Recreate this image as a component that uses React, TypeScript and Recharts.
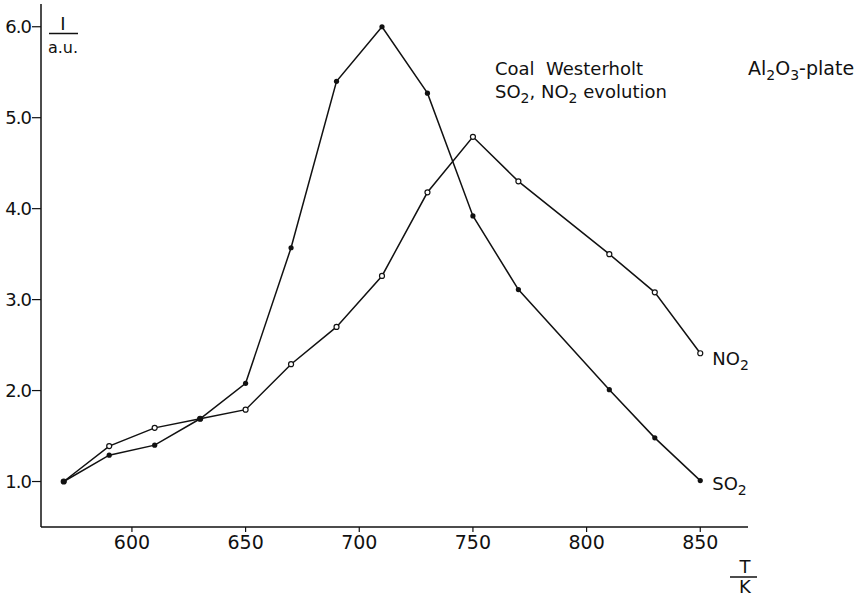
import React from "react";
import { LineChart, Line, XAxis, YAxis, LabelList } from "recharts";

// temperature T / K
const temperatures = [570, 590, 610, 630, 650, 670, 690, 710, 730, 750, 770, 810, 830, 850];
// intensity I / a.u.
const so2Values = [1.0, 1.29, 1.4, 1.69, 2.08, 3.57, 5.4, 6.0, 5.27, 3.92, 3.11, 2.01, 1.48, 1.01];
const no2Values = [1.0, 1.39, 1.59, 1.69, 1.79, 2.29, 2.7, 3.26, 4.18, 4.79, 4.3, 3.5, 3.08, 2.41];

const xTicks = [600, 650, 700, 750, 800, 850];
const yTicks = [1, 2, 3, 4, 5, 6];

const FONT = "'DejaVu Sans', sans-serif";
const INK = "#111";

const data = temperatures.map((t, i) => ({ t, so2: so2Values[i], no2: no2Values[i] }));
const lastIndex = temperatures.length - 1;

function Sub({ children }: { children: React.ReactNode }) {
  return (
    <tspan dy={5} fontSize={14}>
      {children}
    </tspan>
  );
}

// series name written next to the final point, "SO2" / "NO2" with subscript
function endLabel(prefix: string, dy: number) {
  // eslint-disable-next-line @typescript-eslint/no-explicit-any
  return (props: any) => {
    if (props.index !== lastIndex) return null;
    return (
      <text x={props.x + 12} y={props.y + dy} fontFamily={FONT} fontSize={18} fill={INK}>
        {prefix}
        <Sub>2</Sub>
      </text>
    );
  };
}

function OpenDot(props: any) {
  const { cx, cy } = props;
  if (cx == null || cy == null) return null;
  return <circle cx={cx} cy={cy} r={2.5} fill="#fff" stroke={INK} strokeWidth={1.2} />;
}

function FilledDot(props: any) {
  const { cx, cy } = props;
  if (cx == null || cy == null) return null;
  return <circle cx={cx} cy={cy} r={2.6} fill={INK} stroke="none" />;
}

export default function App() {
  return (
    <div style={{ position: "absolute", left: 0, top: 0, width: 865, height: 597, background: "#fff" }}>
      <LineChart
        width={865}
        height={597}
        data={data}
        margin={{ top: 4, right: 117, left: 0, bottom: 40 }}
      >
        <XAxis
          dataKey="t"
          type="number"
          domain={[560, 871]}
          ticks={xTicks}
          tickSize={5}
          tickMargin={4}
          height={30}
          axisLine={{ stroke: INK, strokeWidth: 1.5 }}
          tickLine={{ stroke: INK, strokeWidth: 1.2 }}
          tick={{ fill: INK, fontSize: 19, fontFamily: FONT }}
        />
        <YAxis
          type="number"
          domain={[0.5, 6.25]}
          ticks={yTicks}
          width={41}
          tickSize={9}
          tickMargin={1}
          axisLine={{ stroke: INK, strokeWidth: 1.5 }}
          tickLine={{ stroke: INK, strokeWidth: 1.2 }}
          tick={{ fill: INK, fontSize: 18, fontFamily: FONT, letterSpacing: -1 }}
          tickFormatter={(v: number) => v.toFixed(1)}
        />
        <Line
          type="linear"
          dataKey="no2"
          stroke={INK}
          strokeWidth={1.5}
          dot={<OpenDot />}
          activeDot={false}
          isAnimationActive={false}
        >
          <LabelList dataKey="no2" content={endLabel("NO", 12)} />
        </Line>
        <Line
          type="linear"
          dataKey="so2"
          stroke={INK}
          strokeWidth={1.5}
          dot={<FilledDot />}
          activeDot={false}
          isAnimationActive={false}
        >
          <LabelList dataKey="so2" content={endLabel("SO", 9)} />
        </Line>
      </LineChart>

      <svg
        width={865}
        height={597}
        style={{ position: "absolute", left: 0, top: 0, pointerEvents: "none" }}
        fontFamily={FONT}
        fill={INK}
      >
        {/* y axis quantity */}
        <text x={63} y={30} fontSize={18} textAnchor="middle">I</text>
        <line x1={49} x2={78} y1={33.5} y2={33.5} stroke={INK} strokeWidth={1.5} />
        <text x={63} y={53} fontSize={16} textAnchor="middle">a.u.</text>

        {/* x axis quantity */}
        <text x={745} y={573} fontSize={18} textAnchor="middle">T</text>
        <line x1={730} x2={757} y1={577} y2={577} stroke={INK} strokeWidth={1.5} />
        <text x={745} y={593} fontSize={18} textAnchor="middle">K</text>

        {/* annotations */}
        <text x={495} y={75} fontSize={18} style={{ whiteSpace: "pre" }}>
          {"Coal  Westerholt"}
        </text>
        <text x={495} y={98} fontSize={18} style={{ whiteSpace: "pre" }}>
          SO<Sub>2</Sub>
          <tspan dy={-5}>, NO</tspan>
          <Sub>2</Sub>
          <tspan dy={-5}>{" evolution"}</tspan>
        </text>
        <text x={748} y={75} fontSize={19}>
          Al<Sub>2</Sub>
          <tspan dy={-5}>O</tspan>
          <Sub>3</Sub>
          <tspan dy={-5}>-plate</tspan>
        </text>
      </svg>
    </div>
  );
}
